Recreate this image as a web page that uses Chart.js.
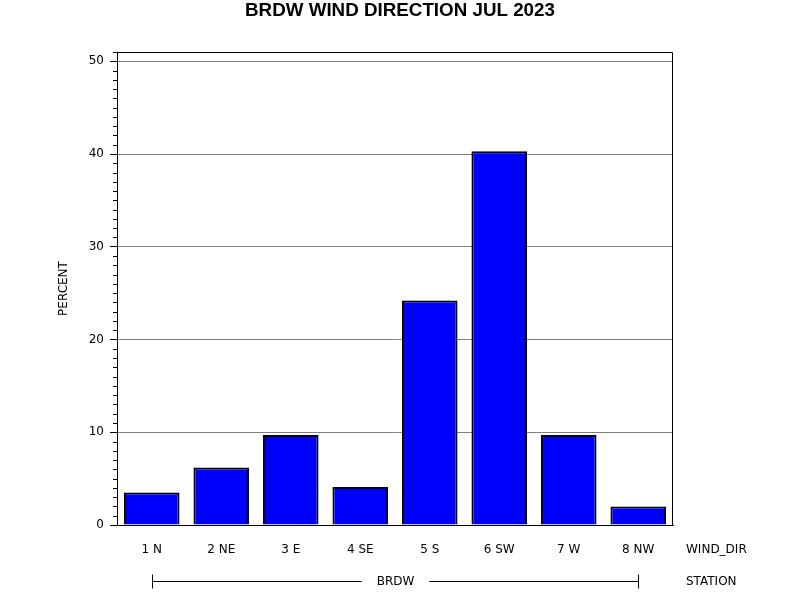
<!DOCTYPE html>
<html><head><meta charset="utf-8">
<script src="https://cdn.jsdelivr.net/npm/chart.js@4"></script>
<style>html,body{margin:0;padding:0;background:#fff}</style>
</head><body>
<canvas id="c" width="800" height="600" style="width:800px;height:600px;display:block"></canvas>
<script>
const categories = ['1 N','2 NE','3 E','4 SE','5 S','6 SW','7 W','8 NW'];
const percent = [3.5, 6.2, 9.7, 4.1, 24.2, 40.3, 9.7, 2.0];
const titleText = 'BRDW WIND DIRECTION JUL 2023';
const yAxisName = 'PERCENT';
const xAxisName = 'WIND_DIR';
const groupAxisName = 'STATION';
const groupLabel = 'BRDW';

const FONT = 'DejaVu Sans';

const decor = {
  id: 'decor',
  afterDraw(chart) {
    const {ctx, chartArea: a, scales: {x, y}} = chart;
    ctx.save();
    // title centred on the page
    ctx.fillStyle = '#000';
    ctx.font = 'bold 18.8px "Liberation Sans"';
    ctx.textAlign = 'center';
    ctx.textBaseline = 'middle';
    ctx.fillText(titleText, chart.width / 2, 11);

    ctx.strokeStyle = '#000';
    ctx.lineWidth = 1;
    // top and right frame
    const L = Math.round(a.left) + 0.5, R = Math.round(a.right) - 0.5;
    const T = Math.round(a.top) + 0.5, B = Math.round(a.bottom) + 0.5;
    ctx.beginPath();
    ctx.moveTo(L, T); ctx.lineTo(R, T); ctx.lineTo(R, B);
    ctx.stroke();
    // minor ticks
    ctx.beginPath();
    for (let v = Math.ceil(y.min); v <= y.max; v++) {
      if (v % 10 === 0) continue;
      const py = Math.round(y.getPixelForValue(v)) + 0.5;
      ctx.moveTo(a.left - 4, py); ctx.lineTo(a.left, py);
    }
    ctx.stroke();
    // axis names
    ctx.font = '12px "' + FONT + '"';
    ctx.textAlign = 'left';
    ctx.textBaseline = 'middle';
    const labY = a.bottom + 25;
    const grpY = a.bottom + 57;
    ctx.fillText(xAxisName, a.right + 13, labY);
    ctx.fillText(groupAxisName, a.right + 13, grpY);
    // group line
    const x0 = Math.round(x.getPixelForValue(0)) + 0.5;
    const x1 = Math.round(x.getPixelForValue(categories.length - 1)) + 0.5;
    const mid = (x0 + x1) / 2;
    const w = ctx.measureText(groupLabel).width;
    ctx.textAlign = 'center';
    ctx.fillText(groupLabel, mid, grpY);
    const gy = Math.round(grpY) - 0.5;
    ctx.beginPath();
    ctx.moveTo(x0, gy); ctx.lineTo(mid - w / 2 - 15, gy);
    ctx.moveTo(mid + w / 2 + 15, gy); ctx.lineTo(x1, gy);
    ctx.moveTo(x0, gy - 7); ctx.lineTo(x0, gy + 7);
    ctx.moveTo(x1, gy - 7); ctx.lineTo(x1, gy + 7);
    ctx.stroke();
    ctx.restore();
  }
};

new Chart(document.getElementById('c'), {
  type: 'bar',
  data: {
    labels: categories,
    datasets: [{
      data: percent,
      backgroundColor: '#0000FF',
      borderColor: '#000000',
      borderWidth: 2,
      barPercentage: 0.8,
      categoryPercentage: 1.0
    }]
  },
  options: {
    responsive: false,
    devicePixelRatio: 1,
    animation: false,
    layout: { padding: { left: 0, right: 127, top: 52, bottom: 0 } },
    plugins: {
      legend: { display: false },
      tooltip: { enabled: false },
      title: { display: false }
    },
    scales: {
      x: {
        afterFit(s) { s.height = 75; },
        grid: { display: false, drawTicks: false },
        border: { display: true, color: '#000', width: 1 },
        ticks: { color: '#000', padding: 18, font: { family: FONT, size: 12 }, maxRotation: 0, autoSkip: false }
      },
      y: {
        min: 0,
        max: 51,
        afterFit(s) { s.width = 117; },
        grid: { color: '#808080', tickColor: '#000', tickLength: 7, drawOnChartArea: true },
        border: { display: true, color: '#000', width: 1 },
        ticks: { stepSize: 10, includeBounds: false, color: '#000', padding: 6, font: { family: FONT, size: 12 } },
        title: {
          display: true,
          text: yAxisName,
          color: '#000',
          font: { family: FONT, size: 12 },
          padding: { top: 57, bottom: 0 }
        }
      }
    }
  },
  plugins: [decor]
});
</script>
</body></html>
